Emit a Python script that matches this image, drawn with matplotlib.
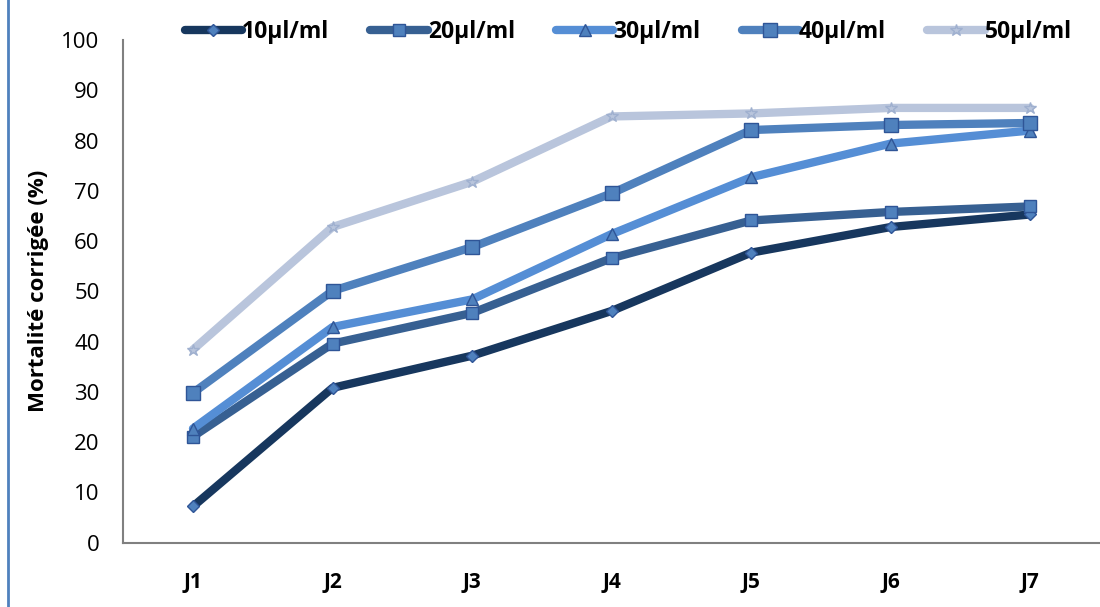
import matplotlib.pyplot as plt
from matplotlib.lines import Line2D

# data
days = ['J1', 'J2', 'J3', 'J4', 'J5', 'J6', 'J7']
c10 = [7.2, 30.8, 37.2, 46.1, 57.7, 62.8, 65.3]
c20 = [21.1, 39.6, 45.7, 56.6, 64.1, 65.8, 66.9]
c30 = [22.7, 42.9, 48.4, 61.4, 72.7, 79.4, 82.0]
c40 = [29.8, 50.1, 58.8, 69.5, 82.1, 83.1, 83.5]
c50 = [38.4, 62.8, 71.8, 84.8, 85.4, 86.5, 86.5]
labels = ['10µl/ml', '20µl/ml', '30µl/ml', '40µl/ml', '50µl/ml']

series = [c10, c20, c30, c40, c50]
colors = ['#17375E', '#376092', '#558ED5', '#4F81BD', '#B9C5DC']
markers = ['D', 's', '^', 's', '*']
msizes = [6, 9, 9, 10, 9]

plt.rcParams['font.family'] = ['Open Sans', 'DejaVu Sans']

fig = plt.figure(figsize=(11, 6.07), dpi=100)
ax = fig.add_axes([0.112, 0.106, 0.888, 0.828])

x = range(len(days))
for vals, lab, col, mk, ms in zip(series, labels, colors, markers, msizes):
    ax.plot(x, vals, color=col, lw=6, label=lab, marker=mk, markersize=ms,
            markerfacecolor='#4F81BD' if mk != '*' else col,
            markeredgecolor='#2F5597' if mk != '*' else '#9FB0CF',
            markeredgewidth=1, solid_capstyle='round', solid_joinstyle='round')

ax.set_xlim(-0.5, len(days) - 0.5)
ax.set_ylim(0, 100)
ax.set_yticks(range(0, 101, 10))
ax.set_xticks(list(x))
ax.set_xticklabels(days, fontweight='bold', fontsize=15)
ax.tick_params(axis='both', length=0)
ax.tick_params(axis='y', labelsize=16, pad=17)
ax.tick_params(axis='x', pad=21)
ax.set_ylabel('Mortalité corrigée (%)', fontweight='bold', fontsize=16, labelpad=9)

for side in ['top', 'right']:
    ax.spines[side].set_visible(False)
for side in ['left', 'bottom']:
    ax.spines[side].set_color('#808080')
    ax.spines[side].set_linewidth(1.5)

ax.legend(loc='center', bbox_to_anchor=(0.517, 1.016), ncol=5,
          frameon=False, prop={'weight': 'bold', 'size': 16.5},
          handlelength=2.5, handletextpad=0.0, columnspacing=1.8)

# blue border line on the left edge
fig.add_artist(Line2D([0.0075, 0.0075], [0, 1], color='#4F81BD', lw=2,
                      transform=fig.transFigure))

fig.savefig('out.png', dpi=100)
